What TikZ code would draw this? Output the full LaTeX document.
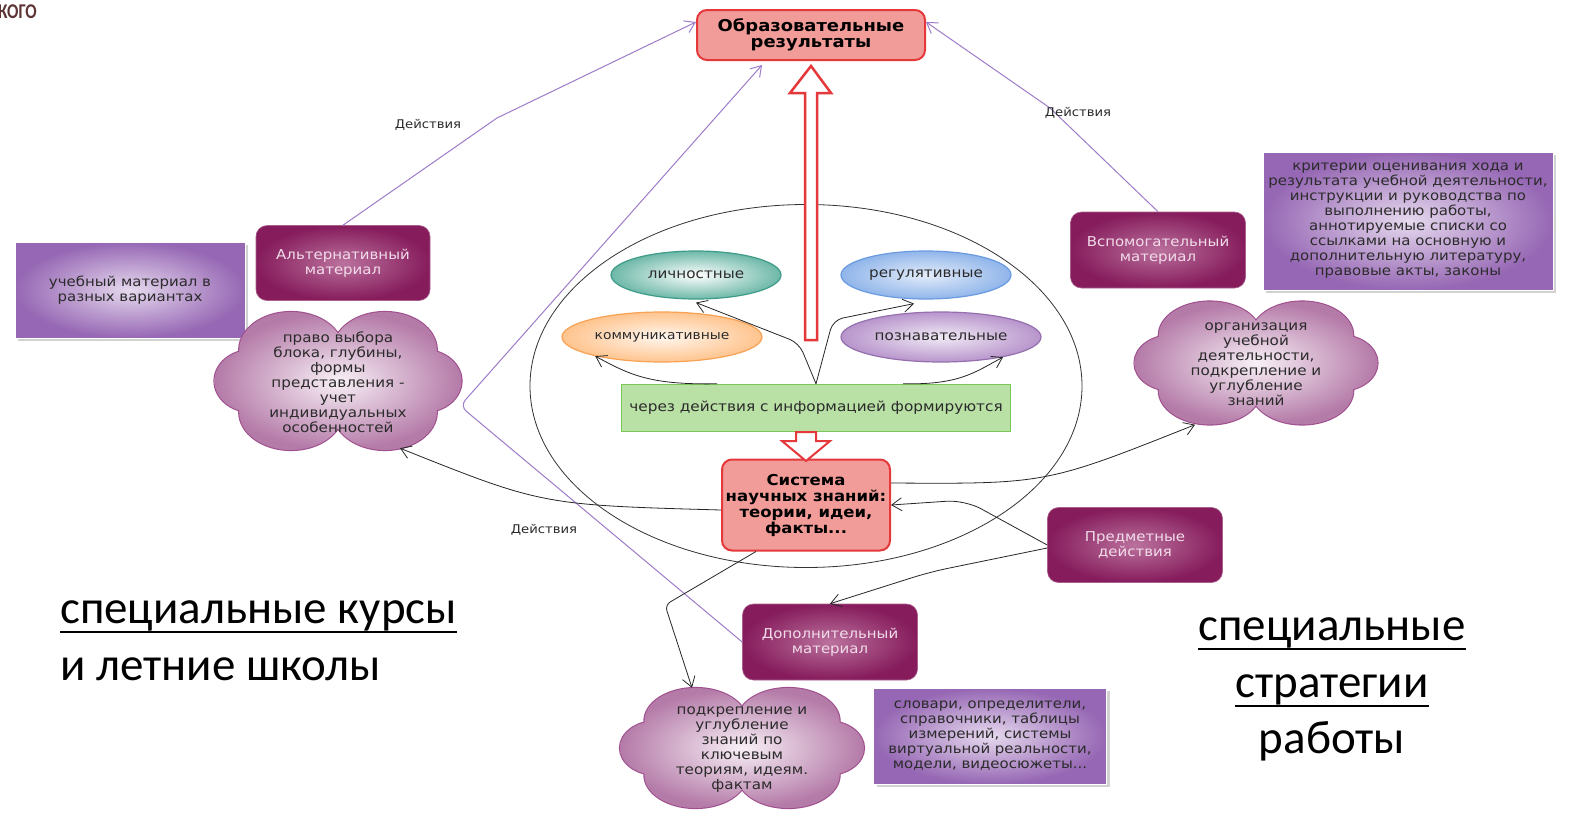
\documentclass[tikz,border=0pt]{standalone}
\usepackage{fontspec}
\setmainfont{DejaVu Sans}[FakeStretch=1.1]
\newfontfamily\calib{Carlito}
\usetikzlibrary{shapes.geometric,arrows.meta,calc,shadows}
\definecolor{redF}{HTML}{F19C99}
\definecolor{redB}{HTML}{E5383B}
\definecolor{grnF}{HTML}{B9E0A5}
\definecolor{grnB}{HTML}{7DC75A}
\definecolor{magO}{HTML}{861C5C}
\definecolor{magI}{HTML}{BA719D}
\definecolor{magT}{HTML}{F2DDEA}
\definecolor{purO}{HTML}{9667B4}
\definecolor{purI}{HTML}{E6D9EE}
\definecolor{cldO}{HTML}{B47AA8}
\definecolor{cldI}{HTML}{F8F0F6}
\definecolor{cldB}{HTML}{A04F8E}
\definecolor{lnk}{HTML}{9D7CC9}
\definecolor{txt}{HTML}{2B2B2B}
\definecolor{tealO}{HTML}{6DB8A8}
\definecolor{tealB}{HTML}{3F9C88}
\definecolor{bluO}{HTML}{90B5EA}
\definecolor{bluB}{HTML}{6A9BE0}
\definecolor{orgO}{HTML}{FFC48E}
\definecolor{orgB}{HTML}{F7A254}
\definecolor{vioO}{HTML}{B895CC}
\definecolor{vioB}{HTML}{9470AE}
\definecolor{logo}{HTML}{5E3434}
\tikzset{
  fs/.style={font=\fontsize{#1}{15}\selectfont},
  redbox/.style={draw=redB, line width=2pt, fill=redF, rounded corners=10pt,
    align=center, inner sep=0pt, text=black},
  magbox/.style={draw=magO!70, line width=0.6pt, rounded corners=11pt, inner color=magI, outer color=magO,
    align=center, inner sep=0pt, text=magT, fs=13.6},
  purbox/.style={draw=white, line width=1pt, inner color=purI, outer color=purO,
    drop shadow={shadow xshift=3pt, shadow yshift=-3pt, opacity=0.35},
    align=center, inner sep=0pt, text=txt, fs=13.6},
  cloudtxt/.style={align=center, inner sep=0pt, text=txt, fs=13.8},
  ell/.style={ellipse, line width=1.2pt, inner sep=0pt, text=txt, fs=13.8},
  conn/.style={draw=black!85, line width=0.8pt, -{Straight Barb[length=10pt,width=13pt]}},
  plink/.style={draw=lnk, line width=1pt, -{Straight Barb[length=10pt,width=13pt]}},
  lbl/.style={inner sep=0pt, text=txt, fs=12},
  big/.style={inner sep=0pt, font=\calib\fontsize{47}{55}\selectfont},
  cloudpic/.pic={
    \draw[cldB, line width=2.2pt]
      (-0.38,-0.45) ellipse [x radius=0.42, y radius=0.55]
      (0.38,-0.45) ellipse [x radius=0.42, y radius=0.55]
      (-0.38,0.45) ellipse [x radius=0.42, y radius=0.55]
      (0.38,0.45) ellipse [x radius=0.42, y radius=0.55]
      (-0.7,0) ellipse [x radius=0.3, y radius=0.45]
      (0.7,0) ellipse [x radius=0.3, y radius=0.45];
    \shade[inner color=cldI, outer color=cldO]
      (-0.38,-0.45) ellipse [x radius=0.42, y radius=0.55]
      (0.38,-0.45) ellipse [x radius=0.42, y radius=0.55]
      (-0.38,0.45) ellipse [x radius=0.42, y radius=0.55]
      (0.38,0.45) ellipse [x radius=0.42, y radius=0.55]
      (-0.7,0) ellipse [x radius=0.3, y radius=0.45]
      (0.7,0) ellipse [x radius=0.3, y radius=0.45]
      (0,0) ellipse [x radius=0.6, y radius=0.6];
  },
}
\begin{document}
\begin{tikzpicture}[x=1pt,y=-1pt]
\useasboundingbox (0,0) rectangle (1595,827);
\fill[white] (0,0) rectangle (1595,827);

% logo fragment
\node[inner sep=0pt, text=logo, font=\calib\bfseries\fontsize{21}{21}\selectfont, anchor=west, xscale=0.8] (logo) at (-2,12) {КОГО};

% big ellipse
\node[ellipse, draw=black!80, line width=0.8pt, minimum width=552, minimum height=363] (bigell) at (806,386) {};

% ellipses
\node[ell, draw=tealB, inner color=white, outer color=tealO, minimum width=170, minimum height=48] (lich) at (696,275) {личностные};
\node[ell, draw=bluB, inner color=bluO!25, outer color=bluO, minimum width=170, minimum height=48] (reg) at (926,275) {регулятивные};
\node[ell, draw=orgB, inner color=orgO!15, outer color=orgO, minimum width=200, minimum height=50, fs=12.6] (komm) at (662,337) {коммуникативные};
\node[ell, draw=vioB, inner color=vioO!20, outer color=vioO, minimum width=200, minimum height=50] (pozn) at (941,337) {познавательные};

% green box
\node[draw=grnB, line width=1.5pt, fill=grnF, minimum width=389, minimum height=47, inner sep=0pt, text=txt, fs=13.9] (green) at (816,408) {через действия с информацией формируются};

% red boxes
\node[redbox, minimum width=228, minimum height=50, font=\bfseries\fontsize{16.3}{16}\selectfont] (obraz) at (811,35) {Образовательные\\результаты};
\node[redbox, minimum width=168, minimum height=91, font=\bfseries\fontsize{15}{16}\selectfont] (sys) at (806,505) {Система\\научных знаний:\\теории, идеи,\\факты...};

% block arrows
\draw[redB, line width=2.5pt, fill=white, line join=miter] (811,66) -- (831,93) -- (817,93) -- (817,340) -- (805,340) -- (805,93) -- (790,93) -- cycle;
\draw[redB, line width=2pt, fill=white, line join=miter] (796,432) -- (816,432) -- (816,441) -- (830,441) -- (806,461) -- (782,441) -- (796,441) -- cycle;

% magenta boxes
\node[magbox, minimum width=174, minimum height=75] (alt) at (343,263) {Альтернативный\\материал};
\node[magbox, minimum width=175, minimum height=76] (vsp) at (1158,250) {Вспомогательный\\материал};
\node[magbox, minimum width=175, minimum height=75] (pred) at (1135,545) {Предметные\\действия};
\node[magbox, minimum width=175, minimum height=76] (dop) at (830,642) {Дополнительный\\материал};

% purple boxes
\node[purbox, minimum width=230, minimum height=96] (ucheb) at (130,290) {учебный материал в\\разных вариантах};
\node[purbox, minimum width=290, minimum height=138] (krit) at (1408,221) {критерии оценивания хода и\\результата учебной деятельности,\\инструкции и руководства по\\выполнению работы,\\аннотируемые списки со\\ссылками на основную и\\дополнительную литературу,\\правовые акты, законы};
\node[purbox, minimum width=233, minimum height=96] (slov) at (990,736) {словари, определители,\\справочники, таблицы\\измерений, системы\\виртуальной реальности,\\модели, видеосюжеты...};

% clouds
\pic[xscale=123.5, yscale=69] at (338,381) {cloudpic};
\node[minimum width=247, minimum height=138, inner sep=0pt] (cloudL) at (338,381) {};
\node[cloudtxt] (cloudLt) at (338,382) {право выбора\\блока, глубины,\\формы\\представления -\\учет\\индивидуальных\\особенностей};
\pic[xscale=121.5, yscale=61.5] at (1256,363) {cloudpic};
\node[minimum width=243, minimum height=123, inner sep=0pt] (cloudR) at (1256,363) {};
\node[cloudtxt] (cloudRt) at (1256,364) {организация\\учебной\\деятельности,\\подкрепление и\\углубление\\знаний};
\pic[xscale=122, yscale=60] at (742,748) {cloudpic};
\node[minimum width=244, minimum height=120, inner sep=0pt] (cloudB) at (742,748) {};
\node[cloudtxt] (cloudBt) at (742,750) {подкрепление и\\углубление\\знаний по\\ключевым\\теориям, идеям.\\фактам};

% purple links
\coordinate (pb1) at (497,118);
\coordinate (pb2) at (460,406);
\coordinate (pb3) at (1050,108);
\draw[plink] (alt.north) -- (pb1) -- ([yshift=13pt]obraz.west);
\draw[plink, rounded corners=8pt] (dop.west) -- (pb2) -- ([xshift=-49pt,yshift=-4pt]obraz.south);
\draw[plink] (vsp.north) -- (pb3) -- ([yshift=13pt]obraz.east);
\node[lbl] (d1) at (428,125) {Действия};
\node[lbl] (d2) at (1078,113) {Действия};
\node[lbl] (d3) at (544,530) {Действия};

% black connectors inside
\draw[conn, rounded corners=10pt] (green.north) -- (799,343) -- ([yshift=-3pt]lich.south);
\draw[conn, rounded corners=10pt] (green.north) -- (833,320) -- ([xshift=-12pt,yshift=-4pt]reg.south);
\draw[conn] ([xshift=-99pt]green.north) .. controls (650,385) and (630,375) .. (komm.196);
\draw[conn] ([xshift=87pt]green.north) .. controls (960,385) and (975,372) .. (pozn.-18);

% black connectors outside
\draw[conn] ([yshift=-5pt]sys.west) .. controls (542,505) .. ([xshift=62pt,yshift=2pt]cloudL.south);
\draw[conn] ([yshift=22pt]sys.east) .. controls (1046,484) .. ([xshift=-61pt]cloudR.south);
\draw[conn, rounded corners=18pt] (pred.west) -- (965,500) -- (sys.east);
\draw[conn, rounded corners=18pt] ([yshift=-3pt]pred.west) -- (930,572) -- (dop.north);
\draw[conn, rounded corners=6pt] ([xshift=-50pt]sys.south) -- (665,605) -- ([xshift=-50pt]cloudB.north);

% big texts
\node[big, anchor=base west] (t1) at (60,623) {специальные курсы\ };
\node[big, anchor=base west] (t2) at (60,680) {и летние школы};
\draw[line width=2pt] ([yshift=-9pt]t1.base west) -- ([yshift=-9pt]t1.base east);
\node[big, anchor=base] (t3) at (1332,640) {специальные};
\node[big, anchor=base] (t4) at (1332,697) {стратегии};
\node[big, anchor=base] (t5) at (1332,753) {работы};
\draw[line width=2pt] ([yshift=-9pt]t3.base west) -- ([yshift=-9pt]t3.base east);
\draw[line width=2pt] ([yshift=-9pt]t4.base west) -- ([yshift=-9pt]t4.base east);
\end{tikzpicture}
\end{document}
